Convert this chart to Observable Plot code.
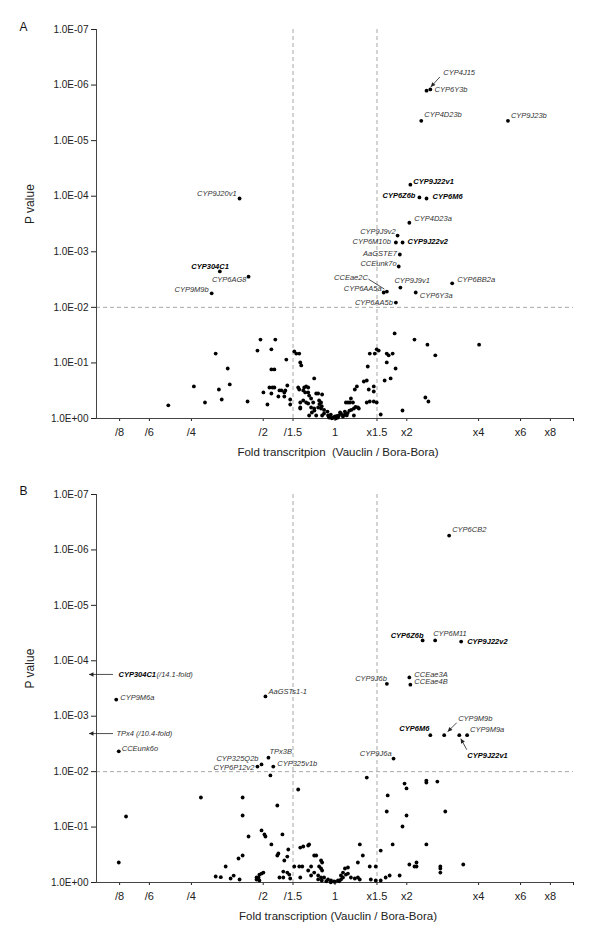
<!DOCTYPE html>
<html><head><meta charset="utf-8">
<script src="https://cdn.jsdelivr.net/npm/d3@7"></script>
<script src="https://cdn.jsdelivr.net/npm/@observablehq/plot@0.6"></script>
<style>
body{margin:0;background:#fff;font-family:"Liberation Sans",Arial,sans-serif;}
#chart svg{display:block;overflow:visible}
[aria-label^="y-axis"] text{font-size:10px}
</style></head><body><div id="chart"></div>
<script>
// ---- axis ticks ----
const xTickValues = [1/8, 1/6, 1/4, 1/2, 1/1.5, 1, 1.5, 2, 4, 6, 8, 10];
const xTickLabels = ["/8", "/6", "/4", "/2", "/1.5", "1", "x1.5", "x2", "x4", "x6", "x8", ""];
const yTickValues = [1e-7, 1e-6, 1e-5, 1e-4, 1e-3, 1e-2, 1e-1, 1];
const yTickLabels = ["1.0E-07", "1.0E-06", "1.0E-05", "1.0E-04", "1.0E-03", "1.0E-02", "1.0E-01", "1.0E+00"];

// ---- panel A: labelled genes ----
const genesA = ["CYP4J15","CYP6Y3b","CYP4D23b","CYP9J23b","CYP9J22v1","CYP6Z6b","CYP6M6","CYP4D23a","CYP9J9v2","CYP6M10b","CYP9J22v2","AaGSTE7","CCEunk7o","CCEae2C","CYP6AA5a","CYP9J9v1","CYP6BB2a","CYP6Y3a","CYP6AA5b","CYP9J20v1","CYP304C1","CYP6AG8","CYP9M9b"];
const foldA = [2.51,2.42,2.30,5.31,2.07,2.26,2.42,2.05,1.83,1.80,1.92,1.87,1.85,1.65,1.60,1.88,3.10,2.18,1.80,0.398,0.329,0.434,0.304];
const pA = [1.2e-6,1.26e-6,4.4e-6,4.4e-6,6.2e-5,1.05e-4,1.1e-4,3.0e-4,5.1e-4,6.8e-4,6.8e-4,1.12e-3,1.84e-3,5.2e-3,5.4e-3,4.4e-3,3.7e-3,5.4e-3,8.2e-3,1.1e-4,2.26e-3,2.8e-3,5.6e-3];
const boldA = ["CYP9J22v1","CYP6Z6b","CYP6M6","CYP9J22v2","CYP304C1"];

// ---- panel A: non-significant genes [fold, p] ----
const cloudA = [
[0.200,0.58],[0.256,0.265],[0.285,0.515],[0.316,0.068],[0.326,0.301],[0.335,0.455],[0.355,0.126],[0.362,0.244],[0.430,0.494],[0.473,0.060],[0.487,0.038],[0.501,0.340],[0.521,0.56],[0.541,0.355],[0.541,0.057],[0.541,0.131],[0.557,0.131],[0.562,0.038],[0.531,0.277],[0.547,0.277],[0.557,0.277],[0.579,0.402],[0.585,0.313],[0.596,0.313],[0.613,0.340],[0.619,0.313],[0.613,0.402],[0.625,0.087],[0.631,0.255],[0.649,0.455],[0.649,0.56],[0.675,0.062],[0.688,0.068],[0.708,0.068],[0.701,0.277],[0.708,0.301],[0.715,0.098],[0.715,0.515],[0.715,0.634],[0.715,0.661],
[0.722,0.111],[0.818,0.19],[0.743,0.277],[0.757,0.265],[0.772,0.277],[0.736,0.313],[0.750,0.340],[0.772,0.340],[0.779,0.386],[0.794,0.437],[0.834,0.355],[0.850,0.355],[0.883,0.370],[0.736,0.474],[0.757,0.515],[0.772,0.537],[0.810,0.515],[0.858,0.474],[0.874,0.515],[0.794,0.634],[0.818,0.661],[0.850,0.634],[0.874,0.661],[0.779,0.883],[0.834,0.883],[0.883,0.883],[0.900,0.813],[0.935,0.883],[0.944,0.96],[0.981,0.96],[0.990,0.96],[1.029,0.96],[1.039,0.883],[1.059,0.813],[1.080,0.883],[0.90,0.70],[0.93,0.75],[0.96,0.85],[1.0,0.92],[1.02,0.9],[1.05,0.78],[0.95,0.95],[0.97,0.99],[1.01,0.99],[0.86,0.55],[0.88,0.60],[0.82,0.72],[0.80,0.78],
[1.321,0.216],[1.359,0.207],[1.235,0.265],[1.211,0.301],[1.385,0.301],[1.454,0.327],[1.454,0.265],[1.359,0.515],[1.399,0.494],[1.454,0.494],[1.496,0.515],[1.555,0.847],[1.919,0.718],[2.393,0.419],[2.464,0.494],[1.166,0.437],[1.133,0.515],[1.155,0.515],[1.189,0.515],[1.111,0.515],[1.200,0.661],[1.247,0.634],[1.259,0.661],[1.200,0.883],[1.372,0.116],[1.399,0.068],[1.468,0.068],[1.496,0.057],[1.525,0.060],[1.648,0.068],[1.679,0.073],[1.745,0.068],[1.648,0.098],[1.795,0.126],[1.711,0.19],[1.615,0.207],[1.778,0.0295],[2.154,0.038],[2.441,0.047],[2.634,0.073],[4.02,0.047],[1.10,0.75],[1.13,0.80],[1.15,0.72],[1.17,0.70],[1.22,0.62],[1.10,0.85],[1.08,0.92],[1.12,0.88]
];

// ---- panel B: labelled genes ----
const genesB = ["CYP6CB2","CYP6Z6b","CYP6M11","CYP9J22v2","CCEae3A","CCEae4B","CYP9J6b","CYP6M6","CYP9M9b","CYP9J22v1","CYP9M9a","CYP9J6a","CYP9M6a","CCEunk6o","AaGSTs1-1","TPx3B","CYP325Q2b","CYP6P12v2","CYP325v1b"];
const foldB = [3.01,2.33,2.63,3.38,2.05,2.07,1.65,2.51,2.87,3.32,3.58,1.76,0.121,0.124,0.511,0.526,0.492,0.473,0.551];
const pB = [5.5e-7,4.3e-5,4.3e-5,4.5e-5,2.0e-4,2.7e-4,2.6e-4,2.2e-3,2.2e-3,2.2e-3,2.2e-3,5.8e-3,5.0e-4,4.3e-3,4.4e-4,5.6e-3,7.4e-3,8.1e-3,8.1e-3];
const boldB = ["CYP6Z6b","CYP9J22v2","CYP6M6","CYP9J22v1","CYP304C1"];
// genes beyond the axis range
const offGenesB = ["CYP304C1","TPx4"];
const offFoldB = [1/14.1, 1/10.4];
const offPB = [1.8e-4, 2.1e-3];
const offNotesB = [" (/14.1-fold)", " (/10.4-fold)"];

// ---- panel B: non-significant genes [fold, p] ----
const cloudB = [
[0.274,0.0293],[0.410,0.0293],[0.573,0.0408],[0.701,0.021],[0.133,0.0644],[0.410,0.0618],[0.536,0.0117],
[1.359,0.0128],[1.957,0.0164],[1.995,0.0201],[2.416,0.0145],[2.416,0.0157],[2.686,0.0151],[1.663,0.0269],[1.648,0.0524],[1.995,0.0618],[2.90,0.0524],
[0.124,0.436],[0.316,0.78],[0.332,0.80],[0.348,0.514],[0.365,0.847],[0.376,0.75],[0.398,0.883],[0.394,0.369],[0.410,0.326],[0.434,0.148],[0.492,0.115],[0.506,0.136],[0.511,0.148],[0.541,0.206],[0.573,0.326],[0.579,0.30],[0.602,0.136],[0.637,0.254],[0.613,0.401],[0.631,0.34],[0.585,0.813],[0.607,0.813],[0.607,0.634],[0.631,0.661],[0.643,0.718],[0.649,0.847],[0.675,0.514],[0.708,0.514],[0.715,0.234],[0.715,0.813],[0.469,0.883],[0.478,0.813],[0.482,0.718],[0.492,0.689],[0.501,0.661],[0.482,0.92],[0.469,0.813],
[1.919,0.0977],[1.271,0.206],[1.745,0.206],[2.416,0.206],[1.308,0.326],[1.555,0.265],[1.247,0.436],[1.399,0.514],[1.482,0.514],[2.05,0.473],[2.154,0.514],[2.197,0.436],[2.197,0.514],[2.765,0.514],[2.765,0.661],[2.765,0.559],[3.45,0.473],[1.866,0.748],[1.695,0.748],[1.631,0.813],[1.555,0.92],[1.482,0.92],[1.413,0.883],
[0.736,0.224],[0.772,0.215],[0.779,0.206],[0.818,0.326],[0.834,0.326],[0.874,0.401],[0.883,0.436],[0.858,0.514],[0.874,0.559],[0.883,0.608],[0.729,0.514],[0.772,0.608],[0.794,0.514],[0.794,0.748],[0.818,0.661],[0.850,0.748],[0.874,0.813],[0.900,0.813],[0.935,0.883],[0.962,0.92],[0.990,0.96],[1.029,0.92],[1.059,0.883],[1.080,0.813],[1.111,0.718],[1.133,0.689],[1.166,0.813],[1.211,0.847],[1.247,0.813],[1.27,0.883],[1.059,0.748],[1.080,0.661],[1.101,0.559],[1.133,0.536],[0.92,0.95],[0.96,0.99],[1.00,0.97],[1.04,0.95],[0.85,0.88],[0.88,0.92]
];

// ---- label placement (pixel offsets, anchor) ----
const layoutA = {
 "CYP4J15":[13,-17,"start"],"CYP6Y3b":[8,-1,"start"],"CYP4D23b":[3,-6,"start"],"CYP9J23b":[3,-5,"start"],
 "CYP9J22v1":[3,-3,"start"],"CYP6Z6b":[-4,-2,"end"],"CYP6M6":[6,-2,"start"],"CYP4D23a":[5,-4,"start"],
 "CYP9J9v2":[-2,-4,"end"],"CYP6M10b":[-5,-1,"end"],"CYP9J22v2":[5,-1,"start"],"AaGSTE7":[-3,-1,"end"],
 "CCEunk7o":[-2,-3,"end"],"CCEae2C":[-19,-14,"end"],"CYP6AA5a":[-2,-4,"end"],"CYP9J9v1":[-6,-7,"start"],
 "CYP6BB2a":[5,-4,"start"],"CYP6Y3a":[4,3,"start"],"CYP6AA5b":[-3,0,"end"],"CYP9J20v1":[-3,-5,"end"],
 "CYP304C1":[9,-5,"end"],"CYP6AG8":[-2,3,"end"],"CYP9M9b":[-3,-4,"end"]
};
const leadersA = [
 {gene:"CYP4J15", from:[10,-12], to:[1,-2], head:true},
 {gene:"CCEae2C", from:[-18,-12], to:[-2,-2], head:false}
];
const layoutB = {
 "CYP6CB2":[3,-6,"start"],"CYP6Z6b":[1,-5,"end"],"CYP6M11":[-2,-7,"start"],"CYP9J22v2":[6,0,"start"],
 "CCEae3A":[5,-3,"start"],"CCEae4B":[4,-3,"start"],"CYP9J6b":[0,-5,"end"],"CYP6M6":[-1,-7,"end"],
 "CYP9M9b":[14,-17,"start"],"CYP9J22v1":[8,20,"start"],"CYP9M9a":[3,-6,"start"],"CYP9J6a":[-2,-5,"end"],
 "CYP9M6a":[4,-2,"start"],"CCEunk6o":[3,-3,"start"],"AaGSTs1-1":[3,-5,"start"],"TPx3B":[1,-6,"start"],
 "CYP325Q2b":[-3,-6,"end"],"CYP6P12v2":[-3,1,"end"],"CYP325v1b":[4,-3,"start"]
};
const leadersB = [
 {gene:"CYP9M9b", from:[13,-12], to:[4,-3], head:true},
 {gene:"CYP9J22v1", from:[8,15], to:[2,4], head:true}
];

const FONT = '"Liberation Sans", Arial, sans-serif';
const SVGNS = "http://www.w3.org/2000/svg";
const LABEL_GREY = "#333";

function leaderMark(items) {
  return (index, scales, values, dims) => {
    const g = document.createElementNS(SVGNS, "g");
    for (const it of items) {
      const px = it.offLeft ? dims.marginLeft : scales.x(it.fold);
      const py = scales.y(it.p);
      const x1 = px + it.from[0], y1 = py + it.from[1];
      const x2 = px + it.to[0], y2 = py + it.to[1];
      const line = document.createElementNS(SVGNS, "line");
      line.setAttribute("x1", x1); line.setAttribute("y1", y1);
      line.setAttribute("x2", x2); line.setAttribute("y2", y2);
      line.setAttribute("stroke", "#222"); line.setAttribute("stroke-width", "0.8");
      g.appendChild(line);
      if (it.head) {
        const a = Math.atan2(y2 - y1, x2 - x1), L = 4.5, W = 2.2;
        const bx = x2 - L * Math.cos(a), by = y2 - L * Math.sin(a);
        const pts = [[x2, y2], [bx + W * Math.sin(a), by - W * Math.cos(a)], [bx - W * Math.sin(a), by + W * Math.cos(a)]];
        const poly = document.createElementNS(SVGNS, "polygon");
        poly.setAttribute("points", pts.map(p => p.join(",")).join(" "));
        poly.setAttribute("fill", "#222");
        g.appendChild(poly);
      }
    }
    return g;
  };
}

function panel(cfg) {
  const labeled = cfg.genes.map((g, i) => ({gene: g, fold: cfg.folds[i], p: cfg.ps[i]}));
  const points = cfg.cloud.map(([fold, p]) => ({fold, p})).concat(labeled);
  const byGene = new Map(labeled.map(d => [d.gene, d]));
  const leaders = cfg.leaders.map(l => ({...l, fold: byGene.get(l.gene).fold, p: byGene.get(l.gene).p}));
  const off = (cfg.offGenes || []).map((g, i) => ({gene: g, fold: cfg.offFolds[i], p: cfg.offPs[i], note: cfg.offNotes[i]}));
  off.forEach(d => leaders.push({fold: d.fold, p: d.p, offLeft: true, from: [17, 0], to: [-7, 0], head: true}));
  const xTicks = xTickValues.map((v, i) => ({v, label: xTickLabels[i]}));

  const textMarks = labeled.map(d => {
    const [dx, dy, anchor] = cfg.layout[d.gene];
    const b = cfg.bold.includes(d.gene);
    return Plot.text([d], {x: "fold", y: "p", text: "gene", dx, dy, textAnchor: anchor, lineAnchor: "middle",
      fontSize: 7.5, fontStyle: "italic", fontWeight: b ? "bold" : "normal", fill: b ? "#000" : LABEL_GREY});
  });
  const offMarks = off.flatMap(d => {
    const b = cfg.bold.includes(d.gene);
    if (b) return [
      Plot.text([d], {y: "p", frameAnchor: "left", text: "gene", dx: 22, textAnchor: "start", lineAnchor: "middle", fontSize: 7.5, fontStyle: "italic", fontWeight: "bold", fill: "#000"}),
      Plot.text([d], {y: "p", frameAnchor: "left", text: "note", dx: 58, textAnchor: "start", lineAnchor: "middle", fontSize: 7.5, fontStyle: "italic", fill: LABEL_GREY})
    ];
    return [Plot.text([d], {y: "p", frameAnchor: "left", text: x => x.gene + x.note, dx: 20, textAnchor: "start", lineAnchor: "middle", fontSize: 7.5, fontStyle: "italic", fill: LABEL_GREY})];
  });

  return Plot.plot({
    width: 600, height: cfg.height,
    marginLeft: 96, marginRight: 27, marginTop: cfg.marginTop, marginBottom: cfg.marginBottom,
    style: {fontFamily: FONT, fontSize: "10px", color: "#222", background: "#fff"},
    x: {type: "log", domain: [0.1, 10], ticks: xTickValues, tickSize: 3, tickFormat: () => "", label: null},
    y: {type: "log", domain: [1, 1e-7], ticks: yTickValues, tickSize: 5, tickPadding: 3,
        tickFormat: d => yTickLabels[yTickValues.findIndex(v => Math.abs(Math.log10(v) - Math.log10(d)) < 1e-6)] ?? "", label: null},
    marks: [
      Plot.ruleX([1/1.5, 1.5], {stroke: "#a8a8a8", strokeDasharray: "4,3", strokeWidth: 1}),
      Plot.ruleY([0.01], {stroke: "#a8a8a8", strokeDasharray: "4,3", strokeWidth: 1}),
      Plot.ruleX([0.1], {stroke: "#444", strokeWidth: 1}),
      Plot.ruleY([1], {stroke: "#444", strokeWidth: 1}),
      Plot.text(xTicks, {x: "v", text: "label", frameAnchor: "bottom", dy: 14, lineAnchor: "middle", fontSize: 11, fill: "#222"}),
      Plot.dot(points, {x: "fold", y: "p", r: 1.9, fill: "#000", stroke: "none"}),
      ...textMarks,
      ...offMarks,
      leaderMark(leaders),
      Plot.text([cfg.letter], {frameAnchor: "top-left", dx: -77, dy: cfg.letterDy, lineAnchor: "middle", fontSize: 12, fill: "#111"}),
      Plot.text(["P value"], {frameAnchor: "left", rotate: -90, dx: -66, lineAnchor: "middle", fontSize: 12, fill: "#222"}),
      Plot.text([cfg.xTitle], {frameAnchor: "bottom", dx: 3, dy: 34, lineAnchor: "middle", fontSize: 11.5, fill: "#222"})
    ]
  });
}

const chart = document.getElementById("chart");
chart.appendChild(panel({
  letter: "A", letterDy: -2, height: 475, marginTop: 29, marginBottom: 57,
  genes: genesA, folds: foldA, ps: pA, bold: boldA, cloud: cloudA, layout: layoutA, leaders: leadersA,
  xTitle: "Fold transcritpion  (Vauclin / Bora-Bora)"
}));
chart.appendChild(panel({
  letter: "B", letterDy: -3, height: 474, marginTop: 19, marginBottom: 67,
  genes: genesB, folds: foldB, ps: pB, bold: boldB, cloud: cloudB, layout: layoutB, leaders: leadersB,
  offGenes: offGenesB, offFolds: offFoldB, offPs: offPB, offNotes: offNotesB,
  xTitle: "Fold transcription (Vauclin / Bora-Bora)"
}));
</script></body></html>
